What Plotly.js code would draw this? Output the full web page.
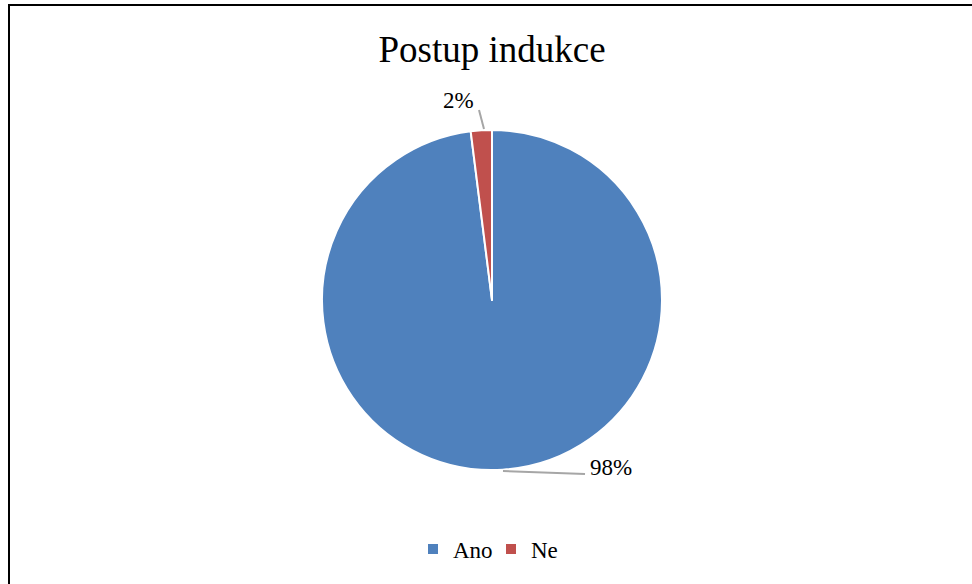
<!DOCTYPE html>
<html>
<head>
<meta charset="utf-8">
<script src="https://cdn.plot.ly/plotly-3.0.1.min.js"></script>
<style>
  html, body { margin: 0; padding: 0; background: #fff; overflow: hidden; }
  #frame { position: absolute; left: 8px; top: 4px; width: 1000px; height: 700px;
           border-top: 2px solid #000; border-left: 2px solid #000; pointer-events: none; z-index: 5; }
  #chart { position: absolute; left: 0; top: 0; width: 972px; height: 584px; }
</style>
</head>
<body>
<div id="chart"></div>
<div id="frame"></div>
<script>
const categories = ["Ano", "Ne"];
const values = [98, 2];
const colors = ["#4F81BD", "#C0504D"];
const chartTitle = "Postup indukce";

const W = 972, H = 584;
const px = x => x / W;
const py = y => 1 - y / H;

const total = values.reduce((a, b) => a + b, 0);
const pct = values.map(v => Math.round(v / total * 100) + "%");

const font = "Liberation Serif";

const trace = {
  type: "pie",
  labels: categories,
  values: values,
  sort: false,
  direction: "clockwise",
  rotation: 0,
  marker: { colors: colors, line: { color: "#ffffff", width: 2 } },
  textinfo: "none",
  hoverinfo: "label+percent",
  domain: { x: [px(322), px(662)], y: [py(470), py(130)] }
};

const layout = {
  width: W, height: H,
  margin: { l: 0, r: 0, t: 0, b: 0 },
  paper_bgcolor: "#fff",
  font: { family: font, color: "#000" },
  title: { text: chartTitle, font: { family: font, size: 37, color: "#000" },
           x: px(492), xanchor: "center", y: py(49), yanchor: "middle" },
  showlegend: true,
  legend: { orientation: "h", x: px(491), xanchor: "center", y: py(549), yanchor: "middle",
            font: { family: font, size: 23, color: "#000" }, itemwidth: 30, entrywidth: 33 },
  shapes: [
    { type: "line", xref: "paper", yref: "paper", x0: px(479), y0: py(110), x1: px(484), y1: py(129),
      line: { color: "#A6A6A6", width: 2 } },
    { type: "line", xref: "paper", yref: "paper", x0: px(503), y0: py(471), x1: px(585), y1: py(474),
      line: { color: "#A6A6A6", width: 2 } }
  ],
  annotations: [
    { text: pct[1], xref: "paper", yref: "paper", x: px(458), y: py(100), showarrow: false,
      xanchor: "center", yanchor: "middle", font: { family: font, size: 23, color: "#000" } },
    { text: pct[0], xref: "paper", yref: "paper", x: px(611), y: py(467), showarrow: false,
      xanchor: "center", yanchor: "middle", font: { family: font, size: 23, color: "#000" } }
  ]
};

Plotly.newPlot("chart", [trace], layout, { displayModeBar: false, staticPlot: true });
</script>
</body>
</html>
